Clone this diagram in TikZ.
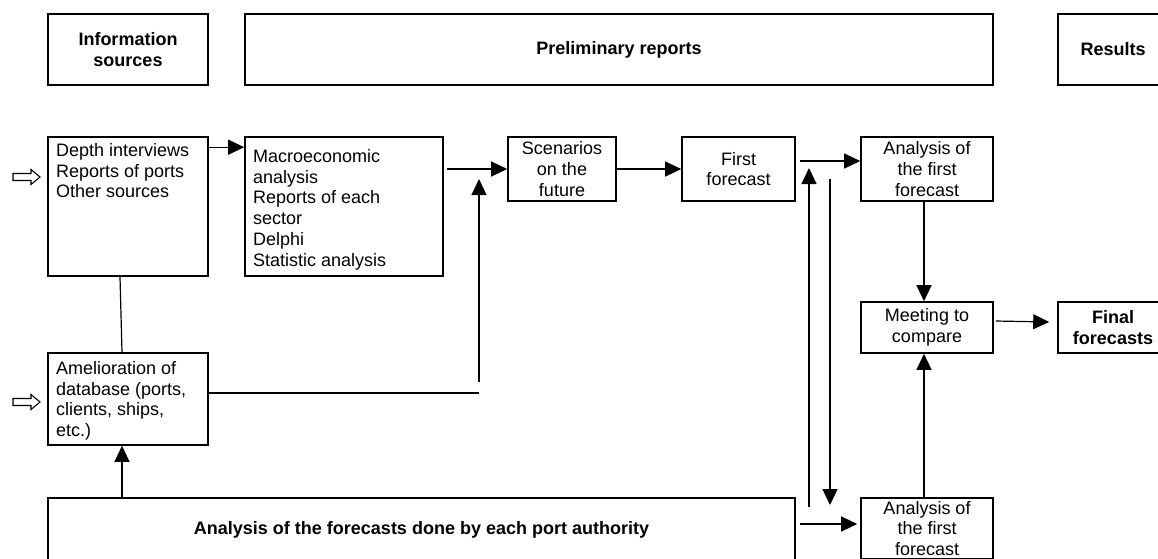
\documentclass[tikz,border=0pt]{standalone}
\usepackage{fontspec}
\setmainfont{Liberation Sans}
\usetikzlibrary{arrows.meta,calc}
\begin{document}
\begin{tikzpicture}[x=1pt,y=-1pt,
  box/.style={draw=black,line width=1.6pt,rectangle,inner sep=0pt,align=center,
    font=\fontsize{18}{20.8}\selectfont},
  hdr/.style={box,font=\fontsize{18}{21}\selectfont\bfseries},
  txt/.style={inner sep=0pt,anchor=north west,align=left,
    font=\fontsize{18}{20.8}\selectfont},
  conn/.style={draw=black,line width=1.2pt},
  arr/.style={conn,-{Triangle[length=16pt,width=15pt]}},
  hollow/.style={draw=black,line width=1.1pt,fill=white}]
\useasboundingbox (0,0) rectangle (1158,558);
\clip (0,0) rectangle (1158,558);

% header row
\node[hdr,minimum width=160,minimum height=71] (info) at (128,49.5) {Information\\sources};
\node[hdr,minimum width=748,minimum height=71] (prelim) at (619,49.5) {Preliminary reports};
\node[hdr,minimum width=110,minimum height=71] (results) at (1113,49.5) {Results};

% boxes
\node[box,minimum width=160,minimum height=139] (depth) at (128,206.5) {};
\node[txt] (depthT) at (56,143) {Depth interviews\\Reports of ports\\Other sources};
\node[box,minimum width=198,minimum height=139] (macro) at (344,206.5) {};
\node[txt] (macroT) at (253,149) {Macroeconomic\\analysis\\Reports of each\\sector\\Delphi\\Statistic analysis};
\node[box,minimum width=108,minimum height=64] (scen) at (562,169) {Scenarios\\on the\\future};
\node[box,minimum width=113,minimum height=64] (first) at (738.5,169) {First\\forecast};
\node[box,minimum width=132,minimum height=64] (anatop) at (927,169) {Analysis of\\the first\\forecast};
\node[box,minimum width=132,minimum height=51] (meet) at (927,327.5) {Meeting to\\compare};
\node[hdr,minimum width=110,minimum height=51] (final) at (1113,327.5) {Final\\forecasts};
\node[box,minimum width=160,minimum height=92] (amel) at (128,399) {};
\node[txt] (amelT) at (56,361) {Amelioration of\\database (ports,\\clients, ships,\\etc.)};
\node[hdr,minimum width=747,minimum height=64] (bigbot) at (421.5,530) {Analysis of the forecasts done by each port authority};
\node[box,minimum width=132,minimum height=61] (anabot) at (927,528.5) {Analysis of\\the first\\forecast};

% hollow input arrows
\draw[hollow] (13,173.5) -- (31,173.5) -- (31,169.5) -- (40,177) -- (31,184.5) -- (31,180.5) -- (13,180.5) -- cycle;
\draw[hollow] (13,398.5) -- (31,398.5) -- (31,394.5) -- (40,402) -- (31,409.5) -- (31,405.5) -- (13,405.5) -- cycle;

% connectors
\draw[arr] ([yshift=-11pt]depth.north east) -- ([yshift=-11pt]macro.north west);
\draw[arr] ([xshift=3pt]macro.east |- scen.west) -- (scen.west);
\draw[arr] (scen.east) -- (first.west);
\draw[arr] ([xshift=4pt,yshift=8pt]first.east) -- ([yshift=8pt]anatop.west);
\draw[arr] ([xshift=-3pt]anatop.south) -- ([xshift=-3pt]meet.north);
\draw[arr] ([xshift=2pt,yshift=6.5pt]meet.east) -- ([xshift=-8pt,yshift=5.5pt]final.west);
\draw[arr] ([xshift=-3pt]anabot.north) -- ([xshift=-3pt]meet.south);
\draw[arr] ([xshift=4pt,yshift=6pt]bigbot.east) -- ([xshift=-3pt,yshift=4.5pt]anabot.west);
\draw[conn] ([xshift=-8pt]depth.south) -- ([xshift=-6pt]amel.north);
\draw[arr] ([xshift=-6pt]amel.south |- bigbot.north) -- ([xshift=-6pt]amel.south);

\coordinate (j1) at (479,393);
\coordinate (j2) at (479,382);
\coordinate (j3) at (479,179);
\draw[conn] ([yshift=6pt]amel.east) -- (j1);
\draw[arr] (j2) -- (j3);

\coordinate (upS) at (809,507);
\coordinate (upE) at (809,168);
\coordinate (dnS) at (830,179);
\coordinate (dnE) at (830,505);
\draw[arr] (upS) -- (upE);
\draw[arr] (dnS) -- (dnE);
\end{tikzpicture}
\end{document}
